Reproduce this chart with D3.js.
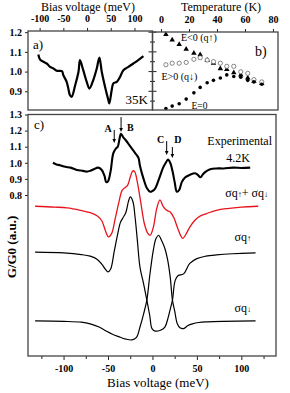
<!DOCTYPE html>
<html>
<head>
<meta charset="utf-8">
<script src="https://cdn.jsdelivr.net/npm/d3@7"></script>
<style>
  body { margin: 0; background: #fff; }
  svg { display: block; }
</style>
</head>
<body>
<script>
// panel a: tunnelling conductance at 35 K  [bias meV, G/G0]
const curve35K = [
  [-102.7, 1.087], [-99, 1.061], [-92, 1.05], [-85, 1.041], [-78, 1.024], [-71, 1.016],
  [-64, 1.004], [-53, 1.002], [-50, 0.982], [-43, 0.948], [-39.5, 0.914], [-36, 0.88],
  [-32.5, 0.872], [-25, 0.931], [-18, 0.999], [-15, 1.058], [-8, 1.007], [-0.7, 0.948],
  [5, 0.914], [13, 0.956], [20.5, 1.016], [26, 1.071], [31, 0.999], [38, 0.922],
  [45, 0.855], [47, 0.838], [52, 0.906], [55.5, 0.94], [62.7, 0.948], [69.6, 0.973],
  [76.6, 1.007], [87, 1.024], [97.7, 1.041], [108, 1.058], [118.8, 1.078]
];
const biasTicksA = [-100, -50, 0, 50, 100];
const gTicksA = [0.9, 1.0, 1.1, 1.2];

// panel b: peak amplitudes vs temperature [T (K), relative height]
const ePos = [
  [3.5, 0.58], [8, 0.60], [13, 0.60], [18, 0.61], [23.5, 0.65], [28, 0.67], [33, 0.64], [37.5, 0.62],
  [42.4, 0.60], [47, 0.56], [52, 0.56], [57, 0.49], [62, 0.47], [66.4, 0.39], [72, 0.36]
];
const eNeg = [
  [3.5, 0.97], [8, 0.90], [13, 0.84], [18, 0.78], [23.5, 0.73], [28, 0.71], [33, 0.64], [37.5, 0.60],
  [42.4, 0.53], [47, 0.52], [52, 0.48], [57, 0.45], [62, 0.41], [66.4, 0.37], [72, 0.34]
];
const eZero = [
  [3.5, 0.02], [8, 0.05], [13, 0.08], [18, 0.14], [23.5, 0.22], [28, 0.29], [33, 0.35], [37.5, 0.38],
  [42.4, 0.41], [47, 0.45], [52, 0.43], [57, 0.42], [62, 0.38], [66.4, 0.36], [72, 0.33]
];
const tempTicks = [0, 20, 40, 60, 80];

// panel c: 4.2 K experiment and model curves [bias meV, G/G0]
const experimental = [
  [-112, 1.0], [-108, 0.99], [-104, 0.985], [-98, 0.975], [-92, 0.97], [-85, 0.955], [-78, 0.95],
  [-74, 0.945], [-70, 0.95], [-66, 0.96], [-61, 0.97], [-57, 0.955], [-54, 0.92], [-52, 0.88],
  [-50, 0.885], [-47, 0.95], [-44, 1.06], [-41, 1.09], [-39, 1.1], [-37, 1.15], [-35.5, 1.18],
  [-33, 1.16], [-30, 1.14], [-26, 1.11], [-22, 1.08], [-18, 1.05], [-15.7, 1.03], [-14, 0.98],
  [-10, 0.9], [-6, 0.84], [-2.6, 0.82], [0, 0.825], [3, 0.84], [8, 0.91], [12, 0.97], [15, 1.0],
  [17.5, 1.02], [20, 1.0], [22.5, 0.95], [25, 0.88], [27.5, 0.82], [30, 0.83], [33, 0.88],
  [37, 0.91], [42, 0.925], [48, 0.935], [51, 0.925], [54, 0.91], [57, 0.93], [60, 0.945],
  [65, 0.96], [72, 0.965], [80, 0.965], [91, 0.97], [100, 0.968], [110, 0.97]
];
const sumCurve = [
  [-132, 0.73], [-110, 0.725], [-96, 0.72], [-81, 0.705], [-70, 0.69], [-62, 0.67], [-57, 0.64],
  [-53, 0.58], [-49.5, 0.54], [-46, 0.56], [-42, 0.65], [-38, 0.75], [-34, 0.83], [-31, 0.845],
  [-28, 0.86], [-25, 0.91], [-22, 0.95], [-20, 0.945], [-17, 0.88], [-13, 0.75], [-9, 0.62],
  [-5, 0.56], [-2.5, 0.55], [1, 0.6], [5, 0.72], [8.5, 0.77], [12, 0.73], [16, 0.705], [20, 0.695],
  [24, 0.66], [28, 0.6], [32, 0.545], [34, 0.53], [37, 0.55], [42, 0.6], [48, 0.645], [54, 0.67],
  [61, 0.685], [72, 0.705], [84, 0.716], [100, 0.725], [119, 0.73]
];
const upCurve = [
  [-132, 0.445], [-100, 0.44], [-80, 0.43], [-70, 0.42], [-62, 0.40], [-57, 0.37], [-53, 0.34],
  [-50, 0.322], [-47, 0.34], [-43, 0.45], [-39, 0.56], [-36, 0.63], [-33, 0.66], [-30, 0.69],
  [-27, 0.76], [-25, 0.788], [-22, 0.76], [-19.5, 0.66], [-17, 0.52], [-14, 0.35], [-10, 0.25],
  [-6.3, 0.147], [-3, 0.05], [-0.5, -0.03], [3, -0.045], [9, -0.04], [14, -0.02], [17.5, 0.035],
  [20, 0.09], [22.5, 0.147], [25.6, 0.27], [29, 0.30], [35, 0.31], [42, 0.375], [50, 0.405],
  [60, 0.42], [72, 0.428], [90, 0.435], [116, 0.44]
];
const downCurve = [
  [-132, 0.018], [-100, 0.015], [-80, 0.01], [-70, 0.0], [-60, -0.02], [-52, -0.045], [-45, -0.065],
  [-38, -0.08], [-30, -0.095], [-23, -0.10], [-18, -0.085], [-14, -0.02], [-10, 0.06],
  [-6.3, 0.147], [-3, 0.3], [1, 0.457], [4, 0.53], [7, 0.55], [10, 0.52], [14, 0.468], [17, 0.40],
  [20, 0.29], [22.5, 0.147], [25, 0.08], [28, 0.0], [31, -0.025], [35, -0.03], [40, -0.01],
  [45, 0.0], [52, 0.008], [62, 0.012], [80, 0.015], [116, 0.018]
];
const biasTicksC = [-100, -50, 0, 50, 100];
const biasMinorC = [-125, -75, -25, 25, 75, 125];
const gTicksC = [0.8, 0.9, 1.0, 1.1, 1.2, 1.3];
// arrows: [label, bias, top G, bottom G]
const arrows = [["A", -43, 1.204, 1.123], ["B", -35.3, 1.284, 1.191], ["C", 16, 1.135, 1.048], ["D", 22.4, 1.098, 1.03]];

const svg = d3.select("body").append("svg").attr("width", 290).attr("height", 393)
  .attr("font-family", "'Liberation Serif', 'DejaVu Serif', serif");
const frame = "#444";

function tidy(g) {
  g.attr("font-family", null).attr("font-size", 10).attr("font-weight", "bold");
  g.select(".domain").remove();
  g.selectAll("line").attr("stroke", "#222");
  g.selectAll("text").attr("fill", "#000");
}
function box(x0, x1, y0, y1) {
  svg.append("rect").attr("x", x0).attr("y", y0).attr("width", x1 - x0).attr("height", y1 - y0)
    .attr("fill", "none").attr("stroke", frame).attr("stroke-width", 1.3);
}
function label(txt, x, y, size, anchor, weight) {
  return svg.append("text").attr("x", x).attr("y", y).attr("font-size", size)
    .attr("text-anchor", anchor || "start").attr("font-weight", weight || "normal").text(txt);
}

// ---- panel a
const xA = d3.scaleLinear().domain([-124.5, 138]).range([28, 152.5]);
const yA = d3.scaleLinear().domain([0.805, 1.206]).range([110, 31]);
svg.append("g").attr("transform", "translate(0,31)")
  .call(d3.axisTop(xA).tickValues(biasTicksA).tickSize(3).tickPadding(6.5).tickFormat(d => String(d)))
  .call(tidy);
svg.append("g").attr("transform", "translate(28,0)")
  .call(d3.axisLeft(yA).tickValues(gTicksA).tickSize(3).tickPadding(3).tickFormat(d3.format(".1f")))
  .call(tidy);
const lineA = d3.line().x(d => xA(d[0])).y(d => yA(d[1])).curve(d3.curveCatmullRom);
svg.append("path").attr("d", lineA(curve35K)).attr("fill", "none").attr("stroke", "#000").attr("stroke-width", 2.2);
box(28, 152.5, 31, 110);
label("a)", 33, 49, 13);
label("35K", 148, 104, 13, "end");
label("Bias voltage (meV)", 88, 11, 12, "middle");

// ---- panel b
const xB = d3.scaleLinear().domain([-6.07, 83.6]).range([152.5, 278]);
const yB = d3.scaleLinear().domain([0, 1]).range([110, 32]);
svg.append("g").attr("transform", "translate(0,32)")
  .call(d3.axisTop(xB).tickValues(tempTicks).tickSize(3).tickPadding(6.5).tickFormat(d => String(d)))
  .call(tidy);
d3.range(0.85, 1.21, 0.05).forEach((v, i) => {
  const major = i % 2 === 1;
  svg.append("line").attr("x1", 152.5 - (major ? 4 : 2.5)).attr("x2", 152.5 + (major ? 4 : 2.5))
    .attr("y1", yA(v)).attr("y2", yA(v)).attr("stroke", "#222");
});
const gb = svg.append("g");
gb.selectAll(".tri").data(eNeg).join("path")
  .attr("transform", d => `translate(${xB(d[0])},${yB(d[1])})`)
  .attr("d", d3.symbol(d3.symbolTriangle, 13)).attr("fill", "#000");
gb.selectAll(".open").data(ePos).join("circle")
  .attr("cx", d => xB(d[0])).attr("cy", d => yB(d[1])).attr("r", 2.1)
  .attr("fill", "#fff").attr("stroke", "#666").attr("stroke-width", 0.8);
gb.selectAll(".fill").data(eZero).join("circle")
  .attr("cx", d => xB(d[0])).attr("cy", d => yB(d[1])).attr("r", 1.8).attr("fill", "#000");
box(152.5, 278, 32, 110);
label("E<0 (q\u2191)", 181, 40.5, 10);
label("E>0 (q\u2193)", 161.5, 80, 10);
label("E=0", 191.5, 109, 9.5);
label("b)", 255, 56, 14);
label("Temperature (K)", 221, 11, 12, "middle");

// ---- panel c
const xC = d3.scaleLinear().domain([-140, 139]).range([28, 276]);
const yC = d3.scaleLinear().domain([-0.2, 1.3]).range([356, 114.5]);
svg.append("g").attr("transform", "translate(0,356)")
  .call(d3.axisBottom(xC).tickValues(biasTicksC).tickSize(4).tickPadding(5).tickFormat(d => String(d)))
  .call(tidy);
svg.append("g").attr("transform", "translate(0,356)")
  .call(d3.axisBottom(xC).tickValues(biasMinorC).tickSize(3).tickFormat(""))
  .call(tidy);
svg.append("g").attr("transform", "translate(28,0)")
  .call(d3.axisLeft(yC).tickValues(gTicksC).tickSize(3).tickPadding(3).tickFormat(d3.format(".1f")))
  .call(tidy);
const lineC = d3.line().x(d => xC(d[0])).y(d => yC(d[1])).curve(d3.curveCatmullRom);
svg.append("path").attr("d", lineC(downCurve)).attr("fill", "none").attr("stroke", "#000").attr("stroke-width", 1.2);
svg.append("path").attr("d", lineC(upCurve)).attr("fill", "none").attr("stroke", "#000").attr("stroke-width", 1.2);
svg.append("path").attr("d", lineC(sumCurve)).attr("fill", "none").attr("stroke", "#e8141c").attr("stroke-width", 1.3);
svg.append("path").attr("d", lineC(experimental)).attr("fill", "none").attr("stroke", "#000")
  .attr("stroke-width", 2.1);

arrows.forEach(([name, v, top, bot]) => {
  const x = xC(v);
  svg.append("line").attr("x1", x).attr("x2", x).attr("y1", yC(top)).attr("y2", yC(bot) - 3)
    .attr("stroke", "#000").attr("stroke-width", 1);
  svg.append("path").attr("d", `M${x - 1.8},${yC(bot) - 4}L${x + 1.8},${yC(bot) - 4}L${x},${yC(bot)}Z`).attr("fill", "#000");
});
label("A", xC(-43) - 6, 132, 10, "middle", "bold");
label("B", xC(-35.3) + 6, 131, 10, "start", "bold");
label("C", xC(16) - 6, 143, 10, "middle", "bold");
label("D", xC(22.4) + 2, 143, 10, "start", "bold");

box(28, 276, 114.5, 356);
label("c)", 34, 129, 13);
label("Experimental", 272, 145, 12, "end");
label("4.2K", 238, 161.5, 12, "middle");

function sigma(parts, x, y) {
  const t = svg.append("text").attr("x", x).attr("y", y).attr("font-size", 12).attr("text-anchor", "end");
  parts.forEach(p => t.append("tspan").attr("font-size", p[1]).text(p[0]));
}
sigma([["\u03c3q", 12], ["\u2191", 8], ["+ \u03c3q", 12], ["\u2193", 8]], 268, 197);
sigma([["\u03c3q", 12], ["\u2191", 8]], 251, 241);
sigma([["\u03c3q", 12], ["\u2193", 8]], 251, 312);

label("Bias voltage (meV)", 158, 387, 13, "middle");
svg.append("text").attr("transform", "translate(16,247) rotate(-90)").attr("text-anchor", "middle")
  .attr("font-size", 13).attr("font-weight", "bold").text("G/G0 (a.u.)");
</script>
</body>
</html>
